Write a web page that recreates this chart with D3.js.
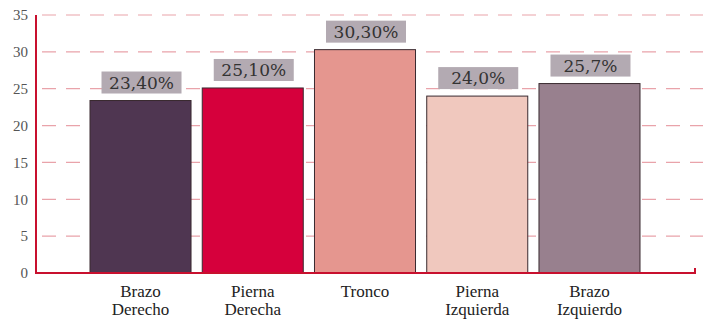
<!DOCTYPE html>
<html>
<head>
<meta charset="utf-8">
<script src="https://cdn.jsdelivr.net/npm/d3@7"></script>
<style>
  body { margin: 0; background: #fff; }
  svg { display: block; }
</style>
</head>
<body>
<div id="chart"></div>
<script>
// data
const categories = ["Brazo Derecho", "Pierna Derecha", "Tronco", "Pierna Izquierda", "Brazo Izquierdo"];
const catLines = [["Brazo", "Derecho"], ["Pierna", "Derecha"], ["Tronco"], ["Pierna", "Izquierda"], ["Brazo", "Izquierdo"]];
const values = [23.4, 25.1, 30.3, 24.0, 25.7];
const valueLabels = ["23,40%", "25,10%", "30,30%", "24,0%", "25,7%"];
const barColors = ["#4f3651", "#d6003c", "#e5968f", "#f0c8be", "#98808e"];
const yTicks = [0, 5, 10, 15, 20, 25, 30, 35];

const W = 703, H = 321;
const margin = { top: 15, right: 8, bottom: 48, left: 36 };
const innerH = H - margin.top - margin.bottom;

const svg = d3.select("#chart").append("svg")
    .attr("width", W)
    .attr("height", H);

const plot = svg.append("g")
    .attr("transform", `translate(${margin.left},${margin.top})`);

// scales
const yScale = d3.scaleLinear()
    .domain([0, 35])
    .range([innerH, 0]);

const xScale = d3.scaleBand()
    .domain(categories)
    .range([54, 604])
    .paddingInner(0.1)
    .paddingOuter(0);

// dashed grid lines
plot.append("g")
    .selectAll("line")
    .data(yTicks.filter(d => d > 0))
    .enter()
    .append("line")
    .attr("x1", 0)
    .attr("x2", W - margin.left)
    .attr("y1", d => yScale(d))
    .attr("y2", d => yScale(d))
    .attr("stroke", "#e9a3aa")
    .attr("stroke-width", 1.2)
    .attr("stroke-dasharray", "14,10")
    .attr("stroke-dashoffset", -6);

// y axis labels
const yAxis = plot.append("g")
    .call(d3.axisLeft(yScale).tickValues(yTicks).tickSize(0).tickPadding(8));
yAxis.select(".domain").remove();
yAxis.selectAll(".tick text")
    .attr("fill", "#555")
    .style("font-family", "'Liberation Serif', serif")
    .style("font-size", "15px");

// bars
const bars = plot.selectAll(".bar")
    .data(values)
    .enter()
    .append("g");

bars.append("rect")
    .attr("x", (d, i) => xScale(categories[i]))
    .attr("y", d => yScale(d))
    .attr("width", xScale.bandwidth())
    .attr("height", d => innerH - yScale(d))
    .attr("fill", (d, i) => barColors[i])
    .attr("stroke", "#3a2a30")
    .attr("stroke-width", 1);

// value label boxes
const boxW = 80, boxH = 22;
bars.append("rect")
    .attr("x", (d, i) => xScale(categories[i]) + xScale.bandwidth() / 2 - boxW / 2 + 1)
    .attr("y", d => yScale(d) - boxH - 7)
    .attr("width", boxW)
    .attr("height", boxH)
    .attr("fill", "#b3aab2");

bars.append("text")
    .attr("x", (d, i) => xScale(categories[i]) + xScale.bandwidth() / 2 + 1)
    .attr("y", d => yScale(d) - 7 - 5)
    .attr("text-anchor", "middle")
    .style("font-family", "'DejaVu Serif', serif")
    .style("font-size", "17px")
    .attr("fill", "#333")
    .text((d, i) => valueLabels[i]);

// axes lines
plot.append("path")
    .attr("d", `M0,${yScale(35)}V${innerH}H${W - margin.left - margin.right}V${innerH - 5}`)
    .attr("fill", "none")
    .attr("stroke", "#c8102e")
    .attr("stroke-width", 2);

// category labels
const catG = plot.append("g")
    .selectAll("text")
    .data(catLines)
    .enter()
    .append("text")
    .attr("text-anchor", "middle")
    .attr("x", (d, i) => xScale(categories[i]) + xScale.bandwidth() / 2)
    .attr("y", innerH + 24)
    .style("font-family", "'Liberation Serif', serif")
    .style("font-size", "17px")
    .attr("fill", "#222");

catG.selectAll("tspan")
    .data(d => d)
    .enter()
    .append("tspan")
    .attr("x", function () { return d3.select(this.parentNode).attr("x"); })
    .attr("dy", (d, i) => i === 0 ? 0 : 18)
    .text(d => d);
</script>
</body>
</html>
